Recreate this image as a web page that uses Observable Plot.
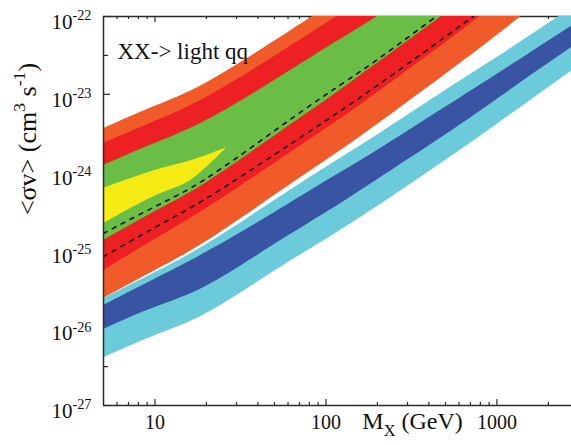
<!DOCTYPE html>
<html><head><meta charset="utf-8">
<script src="https://cdn.jsdelivr.net/npm/d3@7"></script>
<script src="https://cdn.jsdelivr.net/npm/@observablehq/plot@0.6"></script>
<style>body{margin:0;background:#fff;} svg{display:block}</style>
</head><body><div id="chart"></div>
<script>
// ---- data ----
const masses         = [5, 10, 20, 50, 100, 200, 500, 1000, 3000];
const orangeTop      = [3.6e-24, 7.0e-24, 1.4e-23, 4.8e-23, 1.3e-22, 3.6e-22, 1.4e-21, 4.2e-21, 2.2e-20];
const redTop         = [2.33e-24, 4.47e-24, 9.1e-24, 3.06e-23, 8.1e-23, 2.19e-22, 8.7e-22, 2.5e-21, 1.45e-20];
const greenTop       = [1.22e-24, 2.33e-24, 4.6e-24, 1.5e-23, 3.9e-23, 1.0e-22, 3.8e-22, 1.07e-21, 5.6e-21];
const greenBottom    = [1.32e-25, 3.1e-25, 7.3e-25, 2.9e-24, 8.3e-24, 2.5e-23, 1.09e-22, 3.5e-22, 2.3e-21];
const redBottom      = [5.4e-26, 1.36e-25, 3.4e-25, 1.29e-24, 3.6e-24, 1.05e-23, 4.6e-23, 1.47e-22, 9.8e-22];
const orangeBottom   = [2.37e-26, 5.4e-26, 1.28e-25, 5.0e-25, 1.41e-24, 4.1e-24, 1.8e-23, 5.7e-23, 3.8e-22];
const dashedUpper    = [1.63e-25, 3.6e-25, 8.3e-25, 3.4e-24, 9.9e-24, 2.8e-23, 1.23e-22, 3.9e-22, 2.6e-21];
const dashedLower    = [8.2e-26, 1.94e-25, 4.6e-25, 1.68e-24, 4.6e-24, 1.3e-23, 5.5e-23, 1.7e-22, 1.07e-21];
const lightBlueTop   = [2.37e-26, 5.1e-26, 1.17e-25, 4.3e-25, 1.15e-24, 3.0e-24, 1.12e-23, 2.97e-23, 1.47e-22];
const darkBlueTop    = [1.93e-26, 4.2e-26, 9.3e-26, 3.0e-25, 7.6e-25, 1.9e-24, 6.8e-24, 1.8e-23, 8.6e-23];
const darkBlueBottom = [9.5e-27, 1.82e-26, 3.4e-26, 1.17e-25, 3.0e-25, 8.0e-25, 3.0e-24, 8.6e-24, 4.6e-23];
const lightBlueBottom= [4.1e-27, 7.9e-27, 1.52e-26, 5.3e-26, 1.36e-25, 3.6e-25, 1.41e-24, 4.1e-24, 2.3e-23];
const yellowMasses   = [5, 10, 15, 20, 26];
const yellowTop      = [6.2e-25, 1.05e-24, 1.33e-24, 1.63e-24, 2.04e-24];
const yellowBottom   = [2.18e-25, 4.9e-25, 7.1e-25, 1.15e-24, 2.0e-24];

const xMajorTicks = [10, 100, 1000];
const xMinorTicks = [6, 7, 8, 9, 20, 30, 40, 50, 60, 70, 80, 90, 200, 300, 400, 500, 600, 700, 800, 900, 2000];
const yMajorTicks = [1e-27, 1e-26, 1e-25, 1e-24, 1e-23, 1e-22];
const yMinorTicks = [3.16e-27, 3.16e-26, 3.16e-25, 3.16e-24, 3.16e-23];
const xDomain = [5, 2730];
const yDomain = [1e-27, 1e-22];
const panelLabel = "XX-> light qq";
const xTitle = "M_{X} (GeV)";
const yTitle = "<σv> (cm^{3} s^{-1})";

// ---- layout ----
const W = 571, H = 445, mL = 103, mT = 16, mB = 40, mR = 0;
const frameH = H - mT - mB, frameW = W - mL - mR;
const serif = "'Liberation Serif', 'Times New Roman', serif";
const C = {orange: "#f15a29", red: "#ed2024", green: "#6abd45", yellow: "#f5ea14",
           dark: "#3a54a4", light: "#6ccbdb", axis: "#2a2a2a"};

const band = (xs, top, bottom) => xs.map((m, i) => ({m, top: top[i], bottom: bottom[i]}));
const line = (ys) => masses.map((m, i) => ({m, v: ys[i]}));
const area = (data, fill) => Plot.areaY(data, {x: "m", y1: "bottom", y2: "top", fill, curve: "natural", clip: true});

const chart = Plot.plot({
  width: W, height: H, marginLeft: mL, marginTop: mT, marginBottom: mB, marginRight: mR,
  style: {fontFamily: serif, background: "white"},
  x: {type: "log", domain: xDomain, axis: null},
  y: {type: "log", domain: yDomain, axis: null},
  marks: [
    // ticks (inside the frame)
    Plot.tickX(xMajorTicks, {x: d => d, insetTop: frameH - 6, stroke: C.axis, strokeWidth: 1.2}),
    Plot.tickX(xMinorTicks, {x: d => d, insetTop: frameH - 3, stroke: C.axis, strokeWidth: 1.2}),
    Plot.tickX(xMajorTicks, {x: d => d, insetBottom: frameH - 6, stroke: C.axis, strokeWidth: 1.2}),
    Plot.tickX(xMinorTicks, {x: d => d, insetBottom: frameH - 3, stroke: C.axis, strokeWidth: 1.2}),
    Plot.tickY(yMajorTicks, {y: d => d, insetRight: frameW - 7, stroke: C.axis, strokeWidth: 1.2}),
    Plot.tickY(yMinorTicks, {y: d => d, insetRight: frameW - 5, stroke: C.axis, strokeWidth: 1.2}),
    Plot.ruleY([yDomain[1]], {stroke: C.axis, strokeWidth: 1.3}),
    // bands
    area(band(masses, orangeTop, orangeBottom), C.orange),
    area(band(masses, redTop, redBottom), C.red),
    area(band(masses, greenTop, greenBottom), C.green),
    area(band(yellowMasses, yellowTop, yellowBottom), C.yellow),
    area(band(masses, lightBlueTop, lightBlueBottom), C.light),
    area(band(masses, darkBlueTop, darkBlueBottom), C.dark),
    // dashed lines
    Plot.lineY(line(dashedUpper), {x: "m", y: "v", stroke: "#111", strokeWidth: 1.6, strokeDasharray: "4,6", curve: "natural", clip: true}),
    Plot.lineY(line(dashedLower), {x: "m", y: "v", stroke: "#111", strokeWidth: 1.6, strokeDasharray: "4,6", curve: "natural", clip: true}),
    // frame lines
    Plot.ruleY([yDomain[0]], {stroke: C.axis, strokeWidth: 1.5}),
    Plot.ruleX([xDomain[0]], {stroke: C.axis, strokeWidth: 1.5}),
    // labels
    Plot.text([panelLabel], {text: d => d, frameAnchor: "top-left", dx: 14, dy: 26, textAnchor: "start", fontSize: 23, fill: "#111"}),
    Plot.text(xMajorTicks, {x: d => d, text: d => String(d), frameAnchor: "bottom", dy: 23, textAnchor: "middle", fontSize: 20, fill: "#111"}),
    Plot.text(yMajorTicks, {y: d => d, text: d => "10^{" + Math.round(Math.log10(d)) + "}", frameAnchor: "left", dx: -12, dy: 6, textAnchor: "end", fontSize: 21, fill: "#111"}),
    Plot.text([xTitle], {text: d => d, frameAnchor: "bottom-left", dx: 309, dy: 23, textAnchor: "middle", fontSize: 24, fill: "#111"}),
    Plot.text([yTitle], {text: d => d, frameAnchor: "left", dx: -76, dy: -72, rotate: -90, textAnchor: "middle", fontSize: 26, fill: "#111"})
  ]
});
document.getElementById("chart").appendChild(chart);

// turn ^{..} and _{..} into super/subscript tspans
function richText(root) {
  const ns = "http://www.w3.org/2000/svg";
  root.querySelectorAll("text").forEach(t => {
    const s = t.textContent;
    if (!/[\^_]\{/.test(s)) return;
    const fs = parseFloat(getComputedStyle(t).fontSize) || 16;
    while (t.firstChild) t.removeChild(t.firstChild);
    const add = (str, size, dy) => {
      const ts = document.createElementNS(ns, "tspan");
      ts.textContent = str;
      if (size) ts.setAttribute("font-size", size);
      if (dy) ts.setAttribute("dy", dy);
      t.appendChild(ts);
    };
    const re = /([\^_])\{([^}]*)\}/g;
    let last = 0, m, pending = 0;
    while ((m = re.exec(s))) {
      if (m.index > last) { add(s.slice(last, m.index), null, pending); pending = 0; }
      const shift = m[1] === "^" ? -0.42 * fs : 0.32 * fs;
      add(m[2], 0.68 * fs, pending + shift);
      pending = -shift;
      last = re.lastIndex;
    }
    if (last < s.length) add(s.slice(last), null, pending);
  });
}
richText(chart);
</script>
</body></html>
